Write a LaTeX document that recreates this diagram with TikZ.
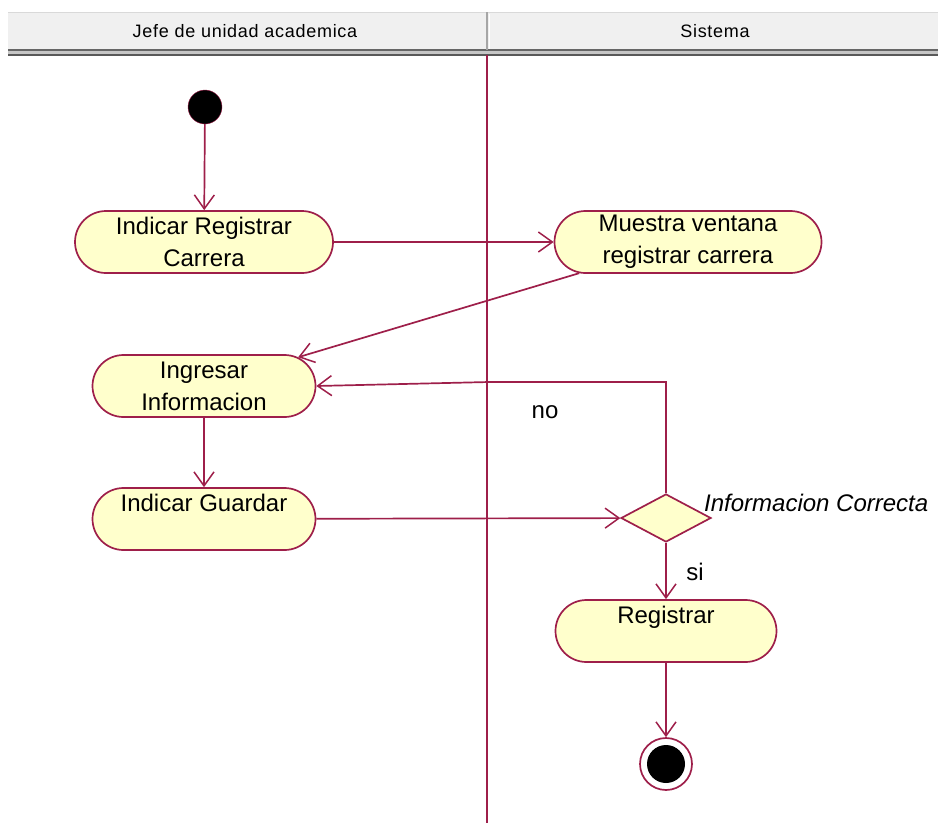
\documentclass[tikz,border=0pt]{standalone}
\usepackage{fontspec}
\setmainfont{Liberation Sans}
\newfontfamily\cabfont[LetterSpace=4]{Liberation Sans}
\usetikzlibrary{shapes.misc,shapes.geometric,arrows.meta}
\definecolor{linea}{HTML}{9E1F4A}
\definecolor{relleno}{HTML}{FFFFCC}
\definecolor{cabeza}{HTML}{F0F0F0}

\begin{document}
\begin{tikzpicture}[x=1pt,y=-1pt,
  act/.style = {draw=linea, fill=relleno, line width=1.7pt, rounded rectangle,
    minimum height=62pt, inner sep=0pt, align=center,
    font=\fontsize{24}{32}\selectfont},
  flujo/.style = {draw=linea, line width=1.7pt, -{Straight Barb[length=14pt,width=20pt,line width=1.5pt]}},
  etiq/.style = {font=\fontsize{24}{28}\selectfont, inner sep=0pt},
  cab/.style = {font=\cabfont\fontsize{18}{20}\selectfont, inner sep=0pt}]
		\useasboundingbox (0,0) rectangle (938,823);
		% carriles
		\fill[cabeza] (8,12) rectangle (938,50);
		\draw[gray!30, line width=1pt] (8,12) -- (938,12);
		\fill[gray!45] (8,50) rectangle (938,55);
		\draw[gray!80!black, line width=1.3pt] (8,50) -- (938,50);
		\draw[gray!70!black, line width=1.3pt] (8,55) -- (938,55);
		\draw[gray!70, line width=1.7pt] (487,12) -- (487,50);
		\draw[white, line width=1pt] (489.5,14) -- (489.5,49);
		\draw[linea, line width=1.7pt] (487,55) -- (487,823);
		\node[cab] (jefe) at (245,31) {Jefe de unidad academica};
		\node[cab] (sistema) at (715,31) {Sistema};
		% actividades
		\node[circle, draw=linea, fill=black, minimum size=34pt, inner sep=0pt] (ini) at (205,107) {};
		\node[act, minimum width=258pt] (indicar) at (204,242) {Indicar Registrar\\Carrera};
		\node[act, minimum width=267pt] (muestra) at (688,242) {Muestra ventana\\registrar carrera};
		\node[act, minimum width=223pt] (ingreso) at (204,386) {Ingresar\\Informacion};
		\node[act, minimum width=223pt] (guardar) at (204,519) {Indicar Guardar\\\mbox{}};
		\node[diamond, draw=linea, fill=relleno, line width=1.7pt, minimum width=90pt, minimum height=48pt, inner sep=0pt] (dec) at (666,518) {};
		\node[etiq, anchor=west, font=\itshape\fontsize{24}{28}\selectfont] (pregunta) at (704,503) {Informacion Correcta};
		\node[act, minimum width=221pt] (registrar) at (666,631) {Registrar\\\mbox{}};
		\node[circle, draw=linea, fill=white, line width=1.7pt, minimum size=52pt, inner sep=0pt] (fin) at (666,764) {};
		\node[circle, fill=black, minimum size=38pt, inner sep=0pt] (finc) at (fin) {};
		\coordinate (esq) at (489,382);
		% flujos
		\draw[flujo] (ini) -- (indicar);
		\draw[flujo] (indicar) -- (muestra);
		\draw[flujo] (muestra.196) -- (ingreso.17);
		\draw[flujo] (ingreso) -- (guardar);
		\draw[flujo] (guardar) -- (dec);
		\draw[flujo] (dec.north) |- (esq) -- (ingreso.east);
		\draw[flujo] (dec) -- (registrar);
		\draw[flujo] (registrar) -- (fin);
		\node[etiq] (no) at (545,412) {no};
		\node[etiq] (si) at (695,572) {si};
	\end{tikzpicture}
\end{document}
